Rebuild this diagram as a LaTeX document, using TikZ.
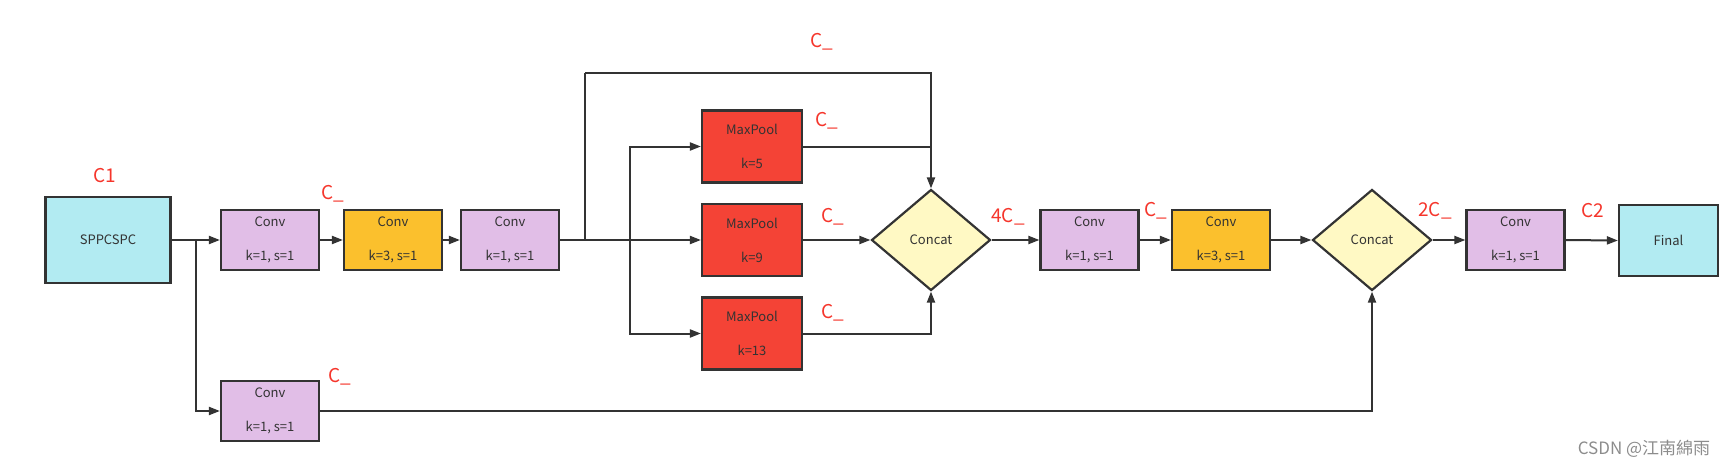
\documentclass[tikz,border=0pt]{standalone}
\usepackage{fontspec}
\setmainfont{Noto Sans CJK SC}
\usetikzlibrary{arrows.meta,shapes.geometric}
\definecolor{lav}{HTML}{E1BEE7}
\definecolor{org}{HTML}{FBC02D}
\definecolor{rd}{HTML}{F44336}
\definecolor{cy}{HTML}{B2EBF2}
\definecolor{yl}{HTML}{FFF9C4}
\definecolor{ln}{HTML}{333333}
\definecolor{lbl}{HTML}{F5352B}
\tikzset{
  box/.style={draw=ln, line width=2.2pt, minimum width=98pt, minimum height=60pt, inner sep=0pt, align=center, text=ln, font=\fontsize{13}{34}\selectfont},
  convbox/.style={box, fill=lav},
  orgbox/.style={box, fill=org},
  poolbox/.style={box, fill=rd, minimum width=100pt, minimum height=72pt},
  bigbox/.style={box, fill=cy},
  cat/.style={shape=diamond, draw=ln, line width=2.2pt, fill=yl, inner sep=0pt, aspect=1.18, minimum width=119pt, minimum height=101pt, text=ln, font=\fontsize{13}{14}\selectfont},
  conn/.style={draw=ln, line width=2pt},
  arr/.style={conn, -{Triangle[length=11pt,width=8pt]}},
  lab/.style={text=lbl, font=\fontsize{19}{20}\selectfont, inner sep=0pt}
}
\begin{document}
\begin{tikzpicture}[x=1pt,y=-1pt]
\useasboundingbox (0,0) rectangle (1727,467);
% nodes
\node[bigbox, minimum width=125pt, minimum height=86pt] (spp) at (108,240) {SPPCSPC};
\node[convbox] (c1) at (270,240) {Conv\\k=1, s=1};
\node[orgbox] (c2) at (393,240) {Conv\\k=3, s=1};
\node[convbox] (c3) at (510,240) {Conv\\k=1, s=1};
\node[poolbox] (mp5) at (752,146.5) {MaxPool\\k=5};
\node[poolbox] (mp9) at (752,240) {MaxPool\\k=9};
\node[poolbox] (mp13) at (752,333.5) {MaxPool\\k=13};
\node[cat] (cat1) at (931,240) {Concat};
\node[convbox] (c4) at (1089.5,240) {Conv\\k=1, s=1};
\node[orgbox] (c5) at (1221,240) {Conv\\k=3, s=1};
\node[cat] (cat2) at (1372,240) {Concat};
\node[convbox] (c6) at (1515.5,240) {Conv\\k=1, s=1};
\node[bigbox, minimum width=99pt, minimum height=71pt] (fin) at (1668.5,240.5) {Final};
\node[convbox] (c7) at (270,411) {Conv\\k=1, s=1};
% coordinates
\coordinate (b1) at (196,240);
\coordinate (t1) at (585,240);
\coordinate (tt) at (585,73);
\coordinate (b2) at (630,240);
% connectors
\draw[arr] (spp.east) -- (c1.west);
\draw[arr] (b1) |- (c7.west);
\draw[arr] (c1) -- (c2);
\draw[arr] (c2) -- (c3);
\draw[arr] (c3.east) -- (mp9.west);
\draw[conn] (t1) -- (tt);
\draw[arr] (tt) -| (cat1.north);
\draw[arr] (b2) |- (mp5.west);
\draw[arr] (b2) |- (mp13.west);
\draw[conn] (mp5.east) -- (mp5.east -| cat1.north);
\draw[arr] (mp9.east) -- (cat1.west);
\draw[arr] (mp13.east) -| (cat1.south);
\draw[arr] (cat1.east) -- (c4.west);
\draw[arr] (c4) -- (c5);
\draw[arr] (c5.east) -- (cat2.west);
\draw[arr] (cat2.east) -- (c6.west);
\draw[arr] (c6.east) -- (fin.west);
\draw[arr] (c7.east) -| (cat2.south);
% labels
\node[lab] (l1) at (105,176) {C1};
\node[lab] (l2) at (333,194) {C\_};
\node[lab] (l3) at (822,42) {C\_};
\node[lab] (l4) at (827,121) {C\_};
\node[lab] (l5) at (833,217) {C\_};
\node[lab] (l6) at (833,313) {C\_};
\node[lab] (l7) at (1008,217) {4C\_};
\node[lab] (l8) at (1156,211) {C\_};
\node[lab] (l9) at (1435,211) {2C\_};
\node[lab] (l10) at (1593,211) {C2};
\node[lab] (l11) at (340,377) {C\_};
\node[text=black!45, font=\fontsize{17}{18}\selectfont, inner sep=0pt] (wm) at (1644,449) {CSDN @江南綿雨};
\end{tikzpicture}
\end{document}
